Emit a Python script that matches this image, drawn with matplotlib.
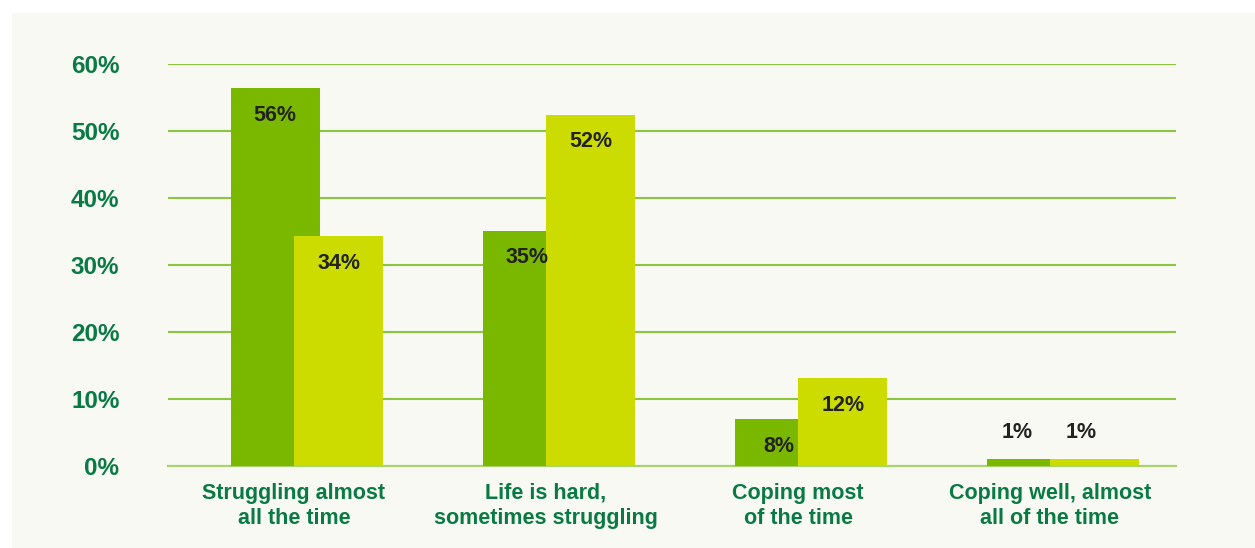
import matplotlib.pyplot as plt
from matplotlib.patches import Rectangle
import numpy as np

categories = ['Struggling almost\nall the time', 'Life is hard,\nsometimes struggling',
              'Coping most\nof the time', 'Coping well, almost\nall of the time']
series_a = [56.4, 35.1, 7.0, 1.0]
series_b = [34.3, 52.4, 13.1, 1.0]
labels_a = ['56%', '35%', '8%', '1%']
labels_b = ['34%', '52%', '12%', '1%']
yticks = [0, 10, 20, 30, 40, 50, 60]

green_dark = '#7ab800'
green_light = '#cddc00'
text_green = '#0a7a45'
grid_green = '#8cc63f'
panel = '#f7f9f2'

fig = plt.figure(figsize=(12.55, 5.48), dpi=100)
fig.patch.set_facecolor('white')
fig.patches.append(Rectangle((12 / 1255, 0), 1, 1 - 13 / 548, transform=fig.transFigure,
                             facecolor=panel, edgecolor='none', zorder=-10))

ax = fig.add_axes([168 / 1255, 82 / 548, 1008 / 1255, 402 / 548])
ax.set_facecolor('none')

x = np.arange(len(categories))
w = 0.353
ax.bar(x - 0.075, series_a, w, color=green_dark, zorder=2)
ax.bar(x + 0.178, series_b, w, color=green_light, zorder=3)

for xs, vals, labs in [(x - 0.075, series_a, labels_a), (x + 0.178, series_b, labels_b)]:
    for xi, v, lab in zip(xs, vals, labs):
        if v > 4:
            off = (0, -27)
        else:
            off = (-14, 27)
        ax.annotate(lab, (xi, v), xytext=off, textcoords='offset pixels',
                    ha='center', va='center', fontsize=15.5, fontweight='bold',
                    color='#222222', family='Liberation Sans', zorder=4)

ax.set_xlim(-0.5, 3.5)
ax.set_ylim(0, 60)
ax.set_yticks(yticks)
ax.set_yticklabels([f'{t}%' for t in yticks], fontsize=17.5, fontweight='bold',
                   color=text_green, family='Liberation Sans')
ax.set_xticks(x)
ax.set_xticklabels(categories, fontsize=15.5, fontweight='bold', color=text_green,
                   family='Liberation Sans', linespacing=1.25)
ax.tick_params(axis='y', length=0, pad=35)
ax.tick_params(axis='x', length=0, pad=12)
ax.grid(axis='y', color=grid_green, linewidth=1.5, zorder=1)
ax.axhline(0, color='#a8d46a', linewidth=1.5, zorder=1, clip_on=False)
ax.set_axisbelow(True)
for s in ax.spines.values():
    s.set_visible(False)

fig.savefig('out.png', dpi=100, facecolor=fig.get_facecolor())
